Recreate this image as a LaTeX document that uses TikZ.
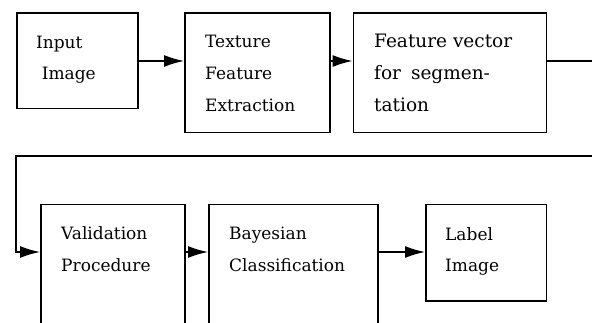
\documentclass[tikz,border=0pt]{standalone}
\usepackage{fontspec}
\setmainfont{DejaVu Serif}
\usetikzlibrary{arrows.meta}
\begin{document}
\begin{tikzpicture}[x=1pt,y=-1pt,
  blk/.style={draw, line width=1.5pt, inner sep=0pt, anchor=north west},
  txt/.style={anchor=base west, inner sep=0pt, font=\fontsize{17}{20}\selectfont},
  bigtxt/.style={txt, font=\fontsize{18.5}{22}\selectfont},
  flow/.style={line width=1.5pt, -{Latex[length=20pt,width=12pt]}}]
\useasboundingbox (0,0) rectangle (592,323);
\clip (0,0) rectangle (592,323);

% processing blocks
\node[blk, minimum width=121pt, minimum height=95.5pt]  (b1) at (16,12.5) {};
\node[blk, minimum width=145pt, minimum height=119.5pt] (b2) at (184,12.5) {};
\node[blk, minimum width=193pt, minimum height=119.5pt] (b3) at (352.5,12.5) {};
\node[blk, minimum width=144pt, minimum height=130pt]   (b4) at (40,204) {};
\node[blk, minimum width=169pt, minimum height=130pt]   (b5) at (208,204) {};
\node[blk, minimum width=120.5pt, minimum height=96pt]  (b6) at (425,204) {};

% block texts
\node[txt] (t1a) at (36,48.3) {Input};
\node[txt] (t1b) at (41.7,80) {Image};
\node[txt] (t2a) at (205,48) {Texture};
\node[txt] (t2b) at (205,80) {Feature};
\node[txt] (t2c) at (205,111.7) {Extraction};
\node[bigtxt] (t3a) at (374,47.5) {Feature vector};
\node[bigtxt] (t3b) at (374,80) {for\hspace{10pt}segmen-};
\node[bigtxt] (t3c) at (374,111.7) {tation};
\node[txt] (t4a) at (61,240) {Validation};
\node[txt] (t4b) at (61,271.7) {Procedure};
\node[txt] (t5a) at (229,240) {Bayesian};
\node[txt] (t5b) at (229,272) {Classification};
\node[txt] (t6a) at (445,241) {Label};
\node[txt] (t6b) at (445,272) {Image};

% row levels of the connectors
\coordinate (row2) at (0,252);
\coordinate (rA) at (600,156);

% connectors
\draw[flow] (b1.east) -- (b1.east -| b2.west);
\draw[flow] (b1.east -| b2.east) -- (b1.east -| b3.west);
\draw[flow] (b1.east -| b3.east) -- (b1.east -| rA) -- (rA) -- (16,156) -- (row2 -| 16,0) -- (row2 -| b4.west);
\draw[flow] (row2 -| b4.east) -- (row2 -| b5.west);
\draw[flow] (row2 -| b5.east) -- (row2 -| b6.west);
\end{tikzpicture}
\end{document}
